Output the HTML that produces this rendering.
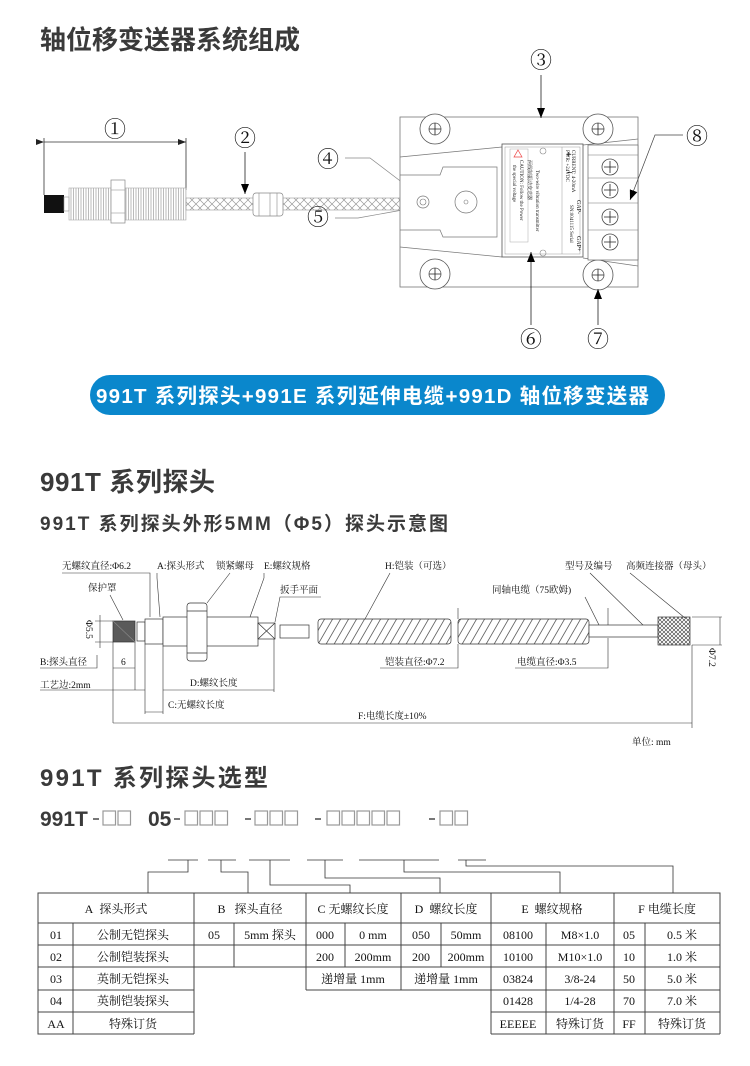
<!DOCTYPE html>
<html><head><meta charset="utf-8"><style>
html,body{margin:0;padding:0;background:#fff;}
svg{display:block;}
.h{font-family:"Liberation Sans","Noto Sans CJK SC",sans-serif;font-weight:bold;fill:#3a3a3a;}
.s{font-family:"Liberation Serif","Noto Serif CJK SC","Noto Sans CJK SC",serif;fill:#111;}
.ln{stroke:#333;stroke-width:0.8;fill:none;}
</style></head><body>
<svg width="750" height="1066" viewBox="0 0 750 1066" xmlns="http://www.w3.org/2000/svg">
<defs>
<pattern id="hx" width="8" height="8" patternUnits="userSpaceOnUse"><path d="M0 0L8 8M8 0L0 8" stroke="#999" stroke-width="0.7"/></pattern>
<pattern id="thr" width="2.5" height="10" patternUnits="userSpaceOnUse"><path d="M1 0V10" stroke="#aaa" stroke-width="0.8"/></pattern>
<pattern id="arm" width="8" height="30" patternUnits="userSpaceOnUse" patternTransform="skewX(-30)"><path d="M2 0V30" stroke="#666" stroke-width="1"/></pattern>
<pattern id="knurl" width="4" height="4" patternUnits="userSpaceOnUse"><path d="M0 0L4 4M4 0L0 4" stroke="#333" stroke-width="0.6"/></pattern>
<marker id="ar" markerWidth="8" markerHeight="6" refX="8" refY="3" orient="auto" markerUnits="userSpaceOnUse"><path d="M0 0L8 3L0 6z" fill="#222"/></marker>
<marker id="ab" markerWidth="10" markerHeight="8" refX="10" refY="4" orient="auto" markerUnits="userSpaceOnUse"><path d="M0 0L10 4L0 8z" fill="#000"/></marker>
</defs>

<text x="40" y="49" class="h" font-size="26">轴位移变送器系统组成</text>

<g>
<text x="115" y="137" class="s" font-size="22" text-anchor="middle">①</text>
<line x1="44" y1="142" x2="186" y2="142" class="ln" marker-start="url(#ar)" marker-end="url(#ar)"/>
<line x1="44" y1="138" x2="44" y2="195" class="ln"/>
<line x1="186" y1="138" x2="186" y2="190" class="ln"/>
<rect x="44" y="195" width="20" height="18" fill="#111"/>
<rect x="64" y="197" width="5" height="14" fill="#fff" stroke="#999" stroke-width="0.6"/>
<rect x="69" y="188" width="117" height="32" fill="url(#thr)" stroke="#aaa" stroke-width="0.6"/>
<rect x="111" y="180" width="14" height="43" fill="#fff" stroke="#888" stroke-width="0.7"/>
<line x1="111" y1="190" x2="125" y2="190" stroke="#999" stroke-width="0.6"/>
<line x1="111" y1="213" x2="125" y2="213" stroke="#999" stroke-width="0.6"/>
<rect x="186" y="198" width="68" height="12" fill="url(#hx)" stroke="#999" stroke-width="0.6"/>
<rect x="253" y="193" width="30" height="23" rx="3" fill="#fff" stroke="#888" stroke-width="0.7"/>
<line x1="259" y1="193" x2="259" y2="216" stroke="#888" stroke-width="0.6"/>
<line x1="270" y1="193" x2="270" y2="216" stroke="#888" stroke-width="0.6"/>
<line x1="277" y1="193" x2="277" y2="216" stroke="#888" stroke-width="0.6"/>
<rect x="283" y="198" width="135" height="12" fill="url(#hx)" stroke="#999" stroke-width="0.6"/>
<text x="245" y="146" class="s" font-size="22" text-anchor="middle">②</text>
<line x1="245" y1="152" x2="245" y2="194" stroke="#000" stroke-width="0.7" marker-end="url(#ab)"/>
<text x="328" y="167" class="s" font-size="22" text-anchor="middle">④</text>
<polyline points="345,158 370,158 420,196" fill="none" stroke="#888" stroke-width="0.7" marker-end="url(#ab)"/>
<text x="318" y="225" class="s" font-size="22" text-anchor="middle">⑤</text>
<polyline points="335,218 358,218 458,200" fill="none" stroke="#888" stroke-width="0.7" marker-end="url(#ab)"/>

<rect x="400" y="117" width="238" height="170" fill="#fff" stroke="#777" stroke-width="0.8"/>
<path d="M400 157 L502 147 M400 247 L502 257 M400 175 L440 175 L443 167 L497 167 L497 237 L443 237 L440 230 L400 230" fill="none" stroke="#777" stroke-width="0.7"/>
<path d="M583 145 L638 139 M583 258 L638 266" fill="none" stroke="#777" stroke-width="0.7"/>
<g stroke="#555" stroke-width="0.8" fill="#fff">
<circle cx="435" cy="129" r="15"/><circle cx="435" cy="129" r="6"/>
<circle cx="598" cy="129" r="15"/><circle cx="598" cy="129" r="6"/>
<circle cx="435" cy="274" r="15"/><circle cx="435" cy="274" r="6"/>
<circle cx="598" cy="275" r="15"/><circle cx="598" cy="275" r="6"/>
</g>
<path d="M435 123V135M429 129H441M598 123V135M592 129H604M435 268V280M429 274H441M598 269V281M592 275H604" stroke="#222" stroke-width="0.8"/>
<circle cx="466" cy="202" r="11" fill="#fff" stroke="#777" stroke-width="0.7"/>
<circle cx="466" cy="202" r="2" fill="none" stroke="#777" stroke-width="0.6"/>
<circle cx="423" cy="202" r="6" fill="#fff" stroke="#777" stroke-width="0.7"/>
<circle cx="423" cy="202" r="3" fill="none" stroke="#777" stroke-width="0.6"/>
<rect x="502" y="144" width="81" height="113" fill="#fff" stroke="#555" stroke-width="0.8"/>
<rect x="505" y="147" width="75" height="107" fill="none" stroke="#999" stroke-width="0.5"/>
<line x1="562" y1="147" x2="562" y2="254" stroke="#999" stroke-width="0.5"/>
<rect x="510" y="149" width="18" height="93" fill="none" stroke="#aaa" stroke-width="0.5"/>
<path d="M518 150 L522 157 L514 157z" fill="none" stroke="#e44" stroke-width="0.7"/>
<g class="s" font-size="5" fill="#333">
<text transform="translate(528,160) rotate(90)">两线制振动变送器</text>
<text transform="translate(520,160) rotate(90)">CAUTION: Follow the Power</text>
<text transform="translate(513,165) rotate(90)">the special voltage</text>
<text transform="translate(536,170) rotate(90)">Two-wire vibration transmitter</text>
<text transform="translate(572,150) rotate(90)">CURRENT: 4-20mA</text>
<text transform="translate(566,150) rotate(90)">PWR: +24VDC</text>
<text transform="translate(570,205) rotate(90)">SN:0041115 Serial</text>
</g>
<text x="566" y="158" class="s" font-size="10" font-weight="bold">+</text>
<text x="567" y="176" class="s" font-size="10" font-weight="bold">−</text>
<text transform="translate(577,200) rotate(90)" class="s" font-size="6">GAP-</text>
<text transform="translate(577,236) rotate(90)" class="s" font-size="6">GAP+</text>
<circle cx="543" cy="151" r="3" fill="none" stroke="#888" stroke-width="0.6"/>
<circle cx="543" cy="253" r="3" fill="none" stroke="#888" stroke-width="0.6"/>
<rect x="588" y="145" width="50" height="115" fill="#fff" stroke="#666" stroke-width="0.7"/>
<path d="M588 155H638M588 178H638M588 203H638M588 230H638" stroke="#777" stroke-width="0.6"/>
<g stroke="#444" stroke-width="0.8" fill="#fff">
<circle cx="610" cy="167" r="8"/><circle cx="610" cy="190" r="8"/><circle cx="610" cy="217" r="8"/><circle cx="610" cy="242" r="8"/>
</g>
<path d="M610 161V173M604 167H616M610 184V196M604 190H616M610 211V223M604 217H616M610 236V248M604 242H616" stroke="#222" stroke-width="0.8"/>
<text x="541" y="68" class="s" font-size="22" text-anchor="middle">③</text>
<line x1="541" y1="75" x2="541" y2="118" stroke="#000" stroke-width="0.7" marker-end="url(#ab)"/>
<text x="697" y="144" class="s" font-size="22" text-anchor="middle">⑧</text>
<polyline points="683,135 655,135 630,200" fill="none" stroke="#444" stroke-width="0.7" marker-end="url(#ab)"/>
<text x="531" y="347" class="s" font-size="22" text-anchor="middle">⑥</text>
<line x1="531" y1="325" x2="531" y2="252" stroke="#000" stroke-width="0.7" marker-end="url(#ab)"/>
<text x="598" y="347" class="s" font-size="22" text-anchor="middle">⑦</text>
<line x1="598" y1="325" x2="598" y2="289" stroke="#000" stroke-width="0.7" marker-end="url(#ab)"/>
</g>

<rect x="90" y="375" width="575" height="40" rx="20" fill="#0a87cc"/>
<text x="96" y="403" class="h" font-size="20.5" style="fill:#fff" textLength="553" lengthAdjust="spacing">991T 系列探头+991E 系列延伸电缆+991D 轴位移变送器</text>

<text x="40" y="491" class="h" font-size="26" textLength="175" lengthAdjust="spacing">991T 系列探头</text>
<text x="40" y="530" class="h" font-size="19" textLength="408" lengthAdjust="spacing">991T 系列探头外形5MM（Φ5）探头示意图</text>

<g class="s" font-size="9.5">
<text x="62" y="569">无螺纹直径:Φ6.2</text>
<text x="157" y="569">A:探头形式</text>
<text x="216" y="569">锁紧螺母</text>
<text x="264" y="569">E:螺纹规格</text>
<text x="385" y="569">H:铠装（可选）</text>
<text x="565" y="569">型号及编号</text>
<text x="626" y="569">高频连接器（母头）</text>
<text x="88" y="591">保护罩</text>
<text x="280" y="593">扳手平面</text>
<text x="492" y="593">同轴电缆（75欧姆)</text>
<text x="40" y="665">B:探头直径</text>
<text x="121" y="665">6</text>
<text x="40" y="688">工艺边:2mm</text>
<text x="190" y="686">D:螺纹长度</text>
<text x="168" y="708">C:无螺纹长度</text>
<text x="358" y="719">F:电缆长度±10%</text>
<text x="385" y="665">铠装直径:Φ7.2</text>
<text x="517" y="665">电缆直径:Φ3.5</text>
<text x="632" y="745">单位: mm</text>
<text transform="translate(86,620) rotate(90)">Φ5.5</text>
<text transform="translate(709,648) rotate(90)">Φ7.2</text>
</g>
<g stroke="#333" stroke-width="0.6" fill="none">
<polyline points="62,573 150,573 150,617"/>
<polyline points="157,573 157,578 160,617"/>
<path d="M230 573 L207 603"/>
<polyline points="264,573 264,578 250,617"/>
<path d="M110 595 L123 620"/>
<polyline points="321,597 280,597 275,622"/>
<path d="M390 573 L365 619"/>
<path d="M585 597 L600 627"/>
<path d="M590 573 L645 627"/>
<path d="M630 573 L685 618"/>
<path d="M95 621H113M95 642H113M100 615V648"/>
<path d="M40 668H97V655"/>
<path d="M113 642V723M135 642V690M145 644V714M163 646V714M274 639V692M692 645V728"/>
<path d="M113 668H135"/>
<path d="M40 690H145"/>
<path d="M163 690H274"/>
<path d="M145 712H163"/>
<path d="M113 723H692"/>
<path d="M692 617H722M692 645H722M720 617V645"/>
<path d="M458 608V619M458 644V668H380"/>
<path d="M608 608V625M608 638V668H515"/>
</g>
<g stroke="#333" stroke-width="0.7">
<rect x="113" y="621" width="22" height="21" fill="#5a5a5a"/>
<line x1="113" y1="621" x2="135" y2="642" stroke="#888"/>
<rect x="137" y="622" width="8" height="19" fill="#fff"/>
<rect x="145" y="619" width="18" height="25" fill="#fff"/>
<rect x="163" y="617" width="95" height="29" fill="#fff"/>
<rect x="187" y="603" width="20" height="58" rx="3" fill="#fff"/>
<path d="M187 611H207M187 653H207" fill="none"/>
<rect x="258" y="623" width="17" height="16" fill="#fff"/>
<path d="M258 623L275 639M275 623L258 639" fill="none"/>
<rect x="280" y="625" width="29" height="13" fill="#fff"/>
<rect x="318" y="619" width="133" height="25" rx="3" fill="url(#arm)"/>
<rect x="458" y="619" width="131" height="25" rx="3" fill="url(#arm)"/>
<rect x="589" y="625" width="69" height="12" fill="#fff"/>
<rect x="658" y="617" width="32" height="28" fill="url(#knurl)"/>
</g>

<text x="40" y="786" class="h" font-size="24" textLength="228" lengthAdjust="spacing">991T 系列探头选型</text>
<g class="h" font-size="21">
<text x="40" y="826">991T</text>
<text x="148" y="826">05</text>
</g>
<g fill="#777">
<rect x="93" y="818" width="6" height="2"/>
<rect x="174" y="818" width="6" height="2"/>
<rect x="245" y="818" width="6" height="2"/>
<rect x="315" y="818" width="6" height="2"/>
<rect x="429" y="818" width="6" height="2"/>
</g>
<g fill="none" stroke="#999" stroke-width="1.2">
<rect x="103" y="811" width="12.5" height="14"/><rect x="118" y="811" width="12.5" height="14"/>
<rect x="185" y="811" width="12.5" height="14"/><rect x="200" y="811" width="12.5" height="14"/><rect x="215" y="811" width="12.5" height="14"/>
<rect x="255" y="811" width="12.5" height="14"/><rect x="270" y="811" width="12.5" height="14"/><rect x="285" y="811" width="12.5" height="14"/>
<rect x="327" y="811" width="12.5" height="14"/><rect x="342" y="811" width="12.5" height="14"/><rect x="357" y="811" width="12.5" height="14"/><rect x="372" y="811" width="12.5" height="14"/><rect x="387" y="811" width="12.5" height="14"/>
<rect x="440" y="811" width="12.5" height="14"/><rect x="455" y="811" width="12.5" height="14"/>
</g>

<g stroke="#333" stroke-width="0.8" fill="none">
<path d="M168 860H198M208 860H236M249 860H290M307 860H343M359 860H439M458 860H486"/>
<polyline points="188,860 188,872 148,872 148,893"/>
<polyline points="221,860 221,872 248,872 248,893"/>
<polyline points="270,860 270,885 350,885 350,893"/>
<polyline points="325,860 325,878 440,878 440,893"/>
<polyline points="404,860 404,872 560,872 560,893"/>
<polyline points="466,860 466,866 673,866 673,893"/>
</g>

<g stroke="#444" stroke-width="1" fill="none">
<rect x="38" y="893" width="682" height="30"/>
<path d="M194 893V1034M306 893V990M401 893V990M491 893V1034M614 893V1034"/>
<path d="M38 923V1034H194M38 945H194M38 967H194M38 990H194M38 1012H194M73 923V1034"/>
<path d="M194 945H306M194 967H306M234 923V967"/>
<path d="M306 945H491M306 967H491M306 990H401M401 990H491M345 923V967M441 923V967"/>
<path d="M491 945H720M491 967H720M491 990H720M491 1012H720M491 1034H720M720 923V1034M546 923V1034M645 923V1034"/>
</g>
<g class="s" font-size="12" text-anchor="middle">
<text x="116" y="913">A&#160;&#160;探头形式</text>
<text x="250" y="913">B&#160;&#160;&#160;探头直径</text>
<text x="353" y="913">C&#160;无螺纹长度</text>
<text x="446" y="913">D&#160;&#160;螺纹长度</text>
<text x="552" y="913">E&#160;&#160;螺纹规格</text>
<text x="667" y="913">F&#160;电缆长度</text>
<text x="56" y="939">01</text><text x="133" y="939">公制无铠探头</text>
<text x="56" y="961">02</text><text x="133" y="961">公制铠装探头</text>
<text x="56" y="983">03</text><text x="133" y="983">英制无铠探头</text>
<text x="56" y="1005">04</text><text x="133" y="1005">英制铠装探头</text>
<text x="56" y="1028">AA</text><text x="133" y="1028">特殊订货</text>
<text x="214" y="939">05</text><text x="270" y="939">5mm 探头</text>
<text x="325" y="939">000</text><text x="373" y="939">0 mm</text>
<text x="325" y="961">200</text><text x="373" y="961">200mm</text>
<text x="353" y="983">递增量 1mm</text>
<text x="421" y="939">050</text><text x="466" y="939">50mm</text>
<text x="421" y="961">200</text><text x="466" y="961">200mm</text>
<text x="446" y="983">递增量 1mm</text>
<text x="518" y="939">08100</text><text x="580" y="939">M8×1.0</text>
<text x="518" y="961">10100</text><text x="580" y="961">M10×1.0</text>
<text x="518" y="983">03824</text><text x="580" y="983">3/8-24</text>
<text x="518" y="1005">01428</text><text x="580" y="1005">1/4-28</text>
<text x="518" y="1028">EEEEE</text><text x="580" y="1028">特殊订货</text>
<text x="629" y="939">05</text><text x="682" y="939">0.5 米</text>
<text x="629" y="961">10</text><text x="682" y="961">1.0 米</text>
<text x="629" y="983">50</text><text x="682" y="983">5.0 米</text>
<text x="629" y="1005">70</text><text x="682" y="1005">7.0 米</text>
<text x="629" y="1028">FF</text><text x="682" y="1028">特殊订货</text>
</g>
</svg>
</body></html>
